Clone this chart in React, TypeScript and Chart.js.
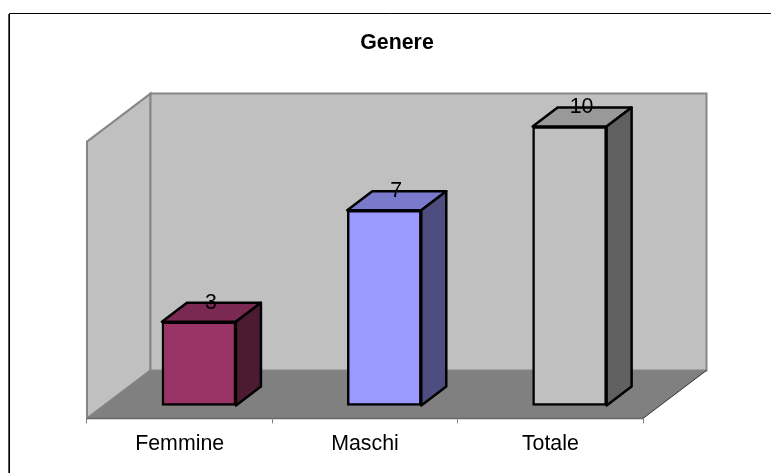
import React, { useEffect, useRef } from "react";
import { Chart, registerables } from "chart.js";

Chart.register(...registerables);

const categories = ["Femmine", "Maschi", "Totale"];
const values = [3, 7, 10];
const frontColors = ["#993366", "#9999FF", "#C0C0C0"];
const topColors = ["#7A2952", "#7A7ACC", "#999999"];
const sideColors = ["#4D1A33", "#4D4D80", "#606060"];
const titleText = "Genere";

const FONT = "'Liberation Sans', Arial, sans-serif";
const WALL_DX = 63.5;
const WALL_DY = 48;
const BAR_DX = 25;
const BAR_DY = 19;

const scene = {
  id: "scene",
  afterLayout(chart: any) {
    // the title sits right of the plot's centre
    chart.titleBlock.left = 397 - 300;
    chart.titleBlock.right = 397 + 300;
  },
  beforeDraw(chart: any) {
    const { ctx } = chart;
    const { left, right, top, bottom } = chart.chartArea;
    ctx.save();
    // outer frame
    ctx.strokeStyle = "#000000";
    ctx.lineWidth = 1;
    ctx.beginPath();
    ctx.moveTo(771, 13.5);
    ctx.lineTo(9.5, 13.5);
    ctx.lineTo(9.5, 473);
    ctx.stroke();
    ctx.strokeStyle = "#555555";
    ctx.beginPath();
    ctx.moveTo(8.5, 14);
    ctx.lineTo(8.5, 473);
    ctx.stroke();

    const poly = (pts: number[][], fill: string, stroke?: string, lw = 2) => {
      ctx.beginPath();
      pts.forEach((p, i) => (i ? ctx.lineTo(p[0], p[1]) : ctx.moveTo(p[0], p[1])));
      ctx.closePath();
      ctx.fillStyle = fill;
      ctx.fill();
      if (stroke) {
        ctx.strokeStyle = stroke;
        ctx.lineWidth = lw;
        ctx.stroke();
      }
    };
    const bx = left + WALL_DX;
    const rx = right + WALL_DX;
    const ty = top - WALL_DY;
    const by = bottom - WALL_DY;
    // left wall, back wall, floor
    poly([[left, top], [bx, ty], [bx, by], [left, bottom]], "#C0C0C0", "#868686");
    poly([[bx, ty], [rx, ty], [rx, by], [bx, by]], "#C0C0C0", "#868686");
    poly([[left, bottom], [bx, by], [rx, by], [right, bottom]], "#808080");
    ctx.strokeStyle = "#333333";
    ctx.lineWidth = 1;
    ctx.beginPath();
    ctx.moveTo(right, bottom);
    ctx.lineTo(rx, by);
    ctx.stroke();
    ctx.strokeStyle = "#666666";
    ctx.lineWidth = 1.5;
    ctx.beginPath();
    ctx.moveTo(left, bottom);
    ctx.lineTo(right, bottom);
    ctx.stroke();
    ctx.restore();
  },
  beforeDatasetsDraw(chart: any) {
    const { ctx } = chart;
    const bars = chart.getDatasetMeta(0).data;
    ctx.save();
    ctx.lineWidth = 2.5;
    ctx.lineJoin = "round";
    ctx.strokeStyle = "#000000";
    bars.forEach((bar: any, i: number) => {
      const { x, y, base, width } = bar.getProps(["x", "y", "base", "width"], true);
      const l = x - width / 2;
      const r = x + width / 2;
      ctx.beginPath();
      ctx.moveTo(l, y);
      ctx.lineTo(l + BAR_DX, y - BAR_DY);
      ctx.lineTo(r + BAR_DX, y - BAR_DY);
      ctx.lineTo(r, y);
      ctx.closePath();
      ctx.fillStyle = topColors[i];
      ctx.fill();
      ctx.stroke();
      ctx.beginPath();
      ctx.moveTo(r, y);
      ctx.lineTo(r + BAR_DX, y - BAR_DY);
      ctx.lineTo(r + BAR_DX, base - BAR_DY);
      ctx.lineTo(r, base);
      ctx.closePath();
      ctx.fillStyle = sideColors[i];
      ctx.fill();
      ctx.stroke();
    });
    ctx.restore();
  },
  afterDatasetsDraw(chart: any) {
    const { ctx } = chart;
    const bars = chart.getDatasetMeta(0).data;
    ctx.save();
    ctx.fillStyle = "#000000";
    ctx.font = `21.33px ${FONT}`;
    ctx.textAlign = "center";
    ctx.textBaseline = "middle";
    bars.forEach((bar: any, i: number) => {
      const { x, y } = bar.getProps(["x", "y"], true);
      ctx.fillText(String(values[i]), x + 12, y - 19);
    });
    ctx.restore();
  },
};

export default function App() {
  const ref = useRef<HTMLCanvasElement>(null);
  useEffect(() => {
    const chart = new Chart(ref.current!, {
      type: "bar",
      data: {
        labels: categories,
        datasets: [
          {
            data: values.map((v, i) => ({ x: i, y: v })),
            backgroundColor: frontColors,
            borderColor: "#000000",
            borderWidth: 2.5,
            borderSkipped: false,
            barThickness: 74,
            clip: false,
            xAxisID: "xb",
            yAxisID: "y",
          } as any,
        ],
      },
      options: {
        animation: false,
        responsive: false,
        layout: { padding: { left: 87, right: 128, top: 30, bottom: 8 } },
        plugins: {
          legend: { display: false },
          tooltip: { enabled: false },
          title: {
            display: true,
            text: titleText,
            color: "#000000",
            font: { family: FONT, size: 21.33, weight: "bold" },
            padding: { top: 0, bottom: 86 },
          },
        },
        scales: {
          x: {
            type: "category",
            position: "bottom",
            labels: categories,
            offset: true,
            grid: { drawOnChartArea: false, drawTicks: true, tickLength: 5, color: "#808080", offset: true },
            border: { display: false },
            ticks: { color: "#000000", font: { family: FONT, size: 21.33 }, padding: 8, maxRotation: 0 },
          },
          xb: {
            type: "linear",
            display: false,
            offset: false,
            grid: { offset: false },
            bounds: "data",
            min: -0.604,
            max: 2.396,
          },
          y: {
            type: "linear",
            display: false,
            bounds: "data",
            min: -0.466,
            max: 9.462,
          },
        },
      } as any,
      plugins: [scene],
    });
    return () => chart.destroy();
  }, []);
  return (
    <canvas
      ref={ref}
      width={771}
      height={473}
      style={{ position: "absolute", left: 0, top: 0, display: "block" }}
    />
  );
}
